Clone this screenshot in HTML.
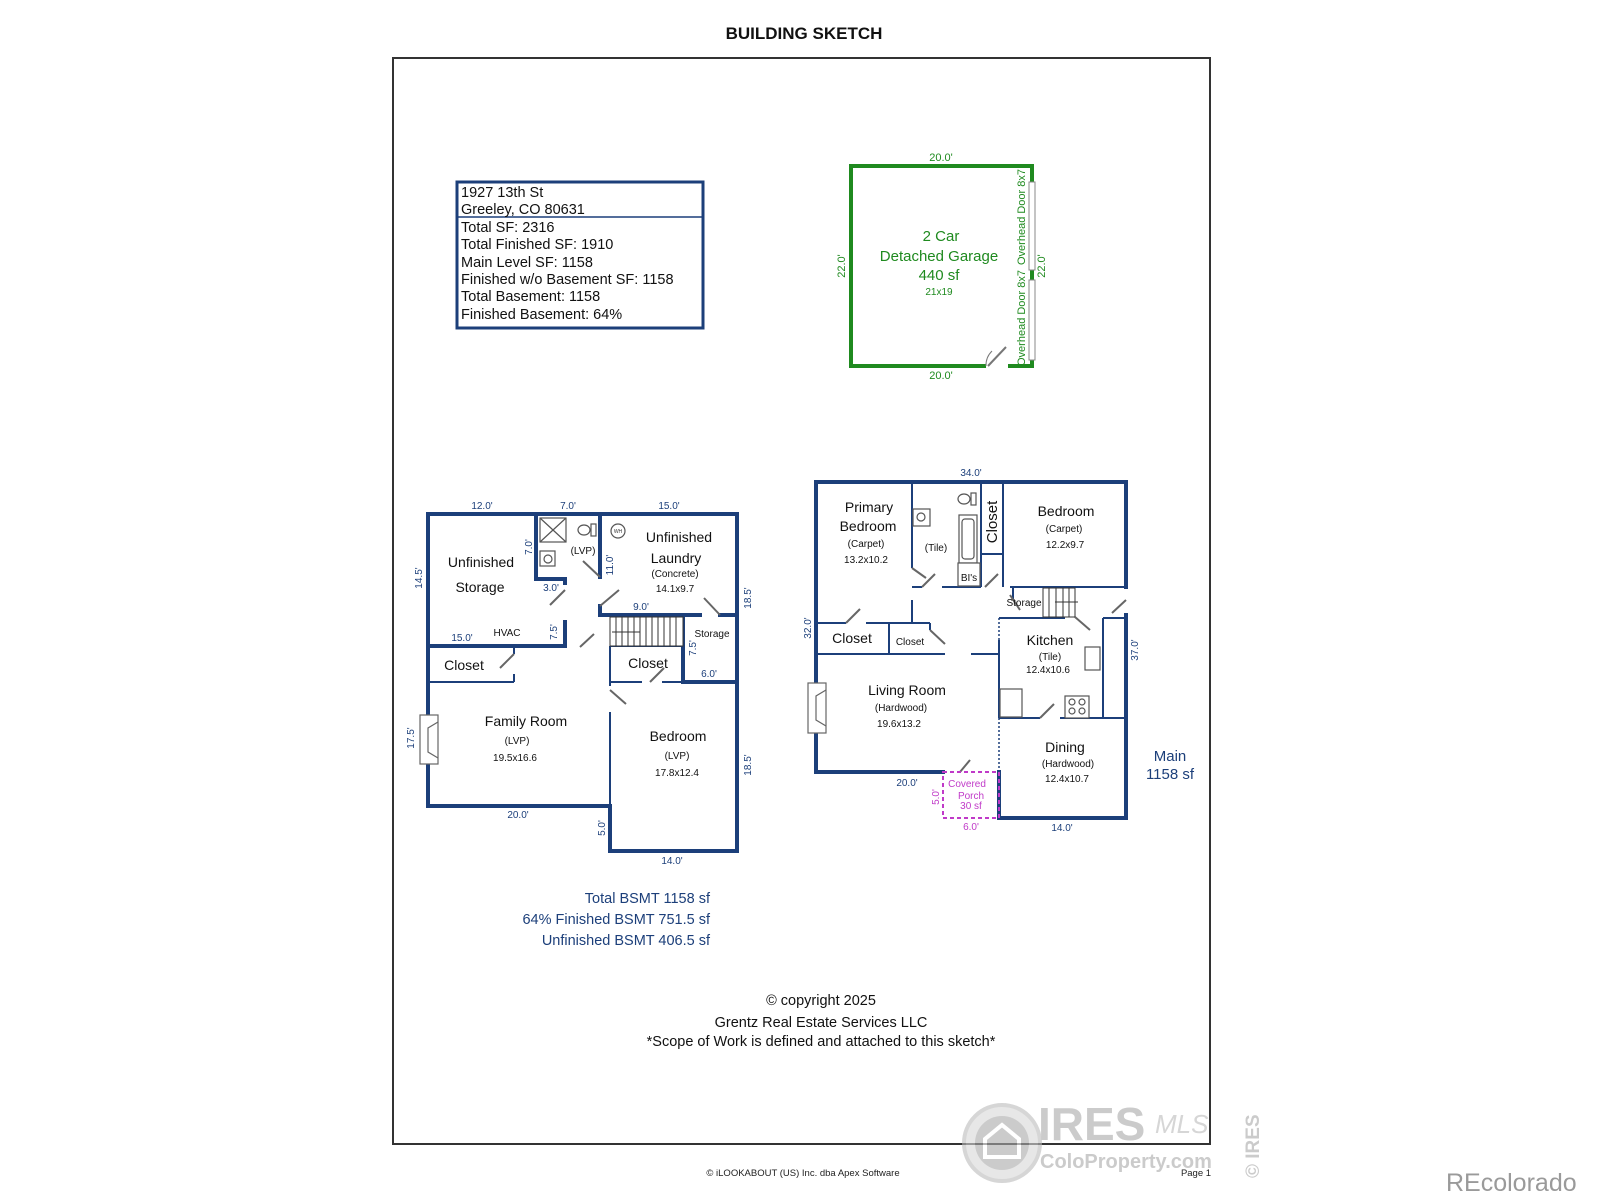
<!DOCTYPE html>
<html><head><meta charset="utf-8"><style>
html,body{margin:0;padding:0;background:#fff;}
svg{display:block;}
text{font-family:"Liberation Sans",Arial,sans-serif;}
</style></head><body>
<svg width="1600" height="1200" viewBox="0 0 1600 1200" xmlns="http://www.w3.org/2000/svg">
<rect width="1600" height="1200" fill="#fff"/>
<text x="804" y="39" text-anchor="middle" font-size="17" font-weight="bold" fill="#111" font-family="DejaVu Sans Condensed, Liberation Sans, sans-serif">BUILDING SKETCH</text>
<rect x="393" y="58" width="817" height="1086" fill="none" stroke="#333" stroke-width="2"/>

<rect x="457" y="182" width="246" height="146" fill="none" stroke="#1c3f7a" stroke-width="3"/>
<line x1="457" y1="217" x2="703" y2="217" stroke="#1c3f7a" stroke-width="1.5"/>
<g font-size="14.5" fill="#111">
<text x="461" y="197">1927 13th St</text>
<text x="461" y="214">Greeley, CO 80631</text>
<text x="461" y="232">Total SF: 2316</text>
<text x="461" y="249">Total Finished SF: 1910</text>
<text x="461" y="267">Main Level SF: 1158</text>
<text x="461" y="284">Finished w/o Basement SF: 1158</text>
<text x="461" y="301">Total Basement: 1158</text>
<text x="461" y="319">Finished Basement: 64%</text>
</g>

<g stroke="#1f8a1f" stroke-width="4" fill="none">
<polyline points="986,366 851,366 851,166 1032,166 1032,366 1008,366"/>
</g>
<rect x="1029" y="182" width="6" height="88" fill="#fff" stroke="#888" stroke-width="1"/>
<rect x="1029" y="280" width="6" height="80" fill="#fff" stroke="#888" stroke-width="1"/>
<line x1="988" y1="366" x2="1006" y2="347" stroke="#777" stroke-width="2"/>
<path d="M986,366 A20,20 0 0 1 992,351" fill="none" stroke="#777" stroke-width="1"/>
<g fill="#1f8a1f" text-anchor="middle">
<text x="941" y="161" font-size="11">20.0'</text>
<text x="941" y="379" font-size="11">20.0'</text>
<text transform="translate(845,266) rotate(-90)" font-size="11">22.0'</text>
<text transform="translate(1045,266) rotate(-90)" font-size="11">22.0'</text>
<text transform="translate(1025,217) rotate(-90)" font-size="11">Overhead Door 8x7</text>
<text transform="translate(1025,318) rotate(-90)" font-size="11">Overhead Door 8x7</text>
<text x="941" y="241" font-size="15">2 Car</text>
<text x="939" y="261" font-size="15">Detached Garage</text>
<text x="939" y="280" font-size="15">440 sf</text>
<text x="939" y="295" font-size="10">21x19</text>
</g>

<g stroke="#1c3f7a" stroke-width="4" fill="none" stroke-linecap="square">
<polyline points="428,514 737,514 737,682"/>
<polyline points="737,682 737,851 610,851 610,806 428,806 428,514"/>
<line x1="536" y1="514" x2="536" y2="579"/>
<line x1="536" y1="579" x2="565" y2="579"/>
<line x1="565" y1="579" x2="565" y2="583"/>
<line x1="565" y1="622" x2="565" y2="646"/>
<line x1="428" y1="646" x2="565" y2="646"/>
<line x1="600" y1="514" x2="600" y2="577"/>
<line x1="600" y1="606" x2="600" y2="615"/>
<line x1="600" y1="615" x2="700" y2="615"/>
<line x1="720" y1="615" x2="737" y2="615"/>
<line x1="683" y1="615" x2="683" y2="682"/>
<line x1="683" y1="682" x2="737" y2="682"/>
</g>
<g stroke="#1c3f7a" stroke-width="2" fill="none">
<line x1="428" y1="682" x2="514" y2="682"/>
<line x1="514" y1="646" x2="514" y2="654"/>
<line x1="514" y1="674" x2="514" y2="682"/>
<line x1="610" y1="646" x2="683" y2="646"/>
<line x1="610" y1="646" x2="610" y2="686"/>
<line x1="610" y1="712" x2="610" y2="806"/>
<line x1="610" y1="682" x2="642" y2="682"/>
<line x1="662" y1="682" x2="683" y2="682"/>
</g>
<g stroke="#333" stroke-width="1">
<rect x="610" y="617" width="73" height="29" fill="#fff"/>
<line x1="616" y1="617" x2="616" y2="646"/><line x1="622" y1="617" x2="622" y2="646"/><line x1="628" y1="617" x2="628" y2="646"/><line x1="634" y1="617" x2="634" y2="646"/><line x1="640" y1="617" x2="640" y2="646"/><line x1="646" y1="617" x2="646" y2="646"/><line x1="652" y1="617" x2="652" y2="646"/><line x1="658" y1="617" x2="658" y2="646"/><line x1="664" y1="617" x2="664" y2="646"/><line x1="670" y1="617" x2="670" y2="646"/><line x1="676" y1="617" x2="676" y2="646"/>
<line x1="612" y1="632" x2="640" y2="632"/>
</g>
<g stroke="#555" stroke-width="1.2" fill="#fff">
<rect x="540" y="518" width="26" height="24"/>
<line x1="540" y1="518" x2="566" y2="542"/><line x1="566" y1="518" x2="540" y2="542"/>
<rect x="540" y="551" width="15" height="15"/><circle cx="548" cy="559" r="4"/>
<ellipse cx="584" cy="530" rx="6" ry="5"/><rect x="591" y="524" width="5" height="12"/>
<circle cx="618" cy="531" r="7"/>
</g>
<text x="618" y="533" font-size="5" text-anchor="middle" fill="#333">WH</text>
<rect x="420" y="715" width="18" height="49" fill="#fff" stroke="#666" stroke-width="1.2"/>
<polyline points="438,722 428,728 428,752 438,758" fill="none" stroke="#666" stroke-width="1.2"/>
<g stroke="#666" stroke-width="2" fill="none">
<line x1="565" y1="590" x2="550" y2="605"/><line x1="600" y1="577" x2="583" y2="561"/>
<line x1="600" y1="606" x2="619" y2="590"/><line x1="720" y1="615" x2="704" y2="598"/>
<line x1="514" y1="654" x2="500" y2="668"/><line x1="580" y1="647" x2="594" y2="634"/>
<line x1="610" y1="690" x2="626" y2="704"/><line x1="650" y1="682" x2="664" y2="668"/>
</g>

<g fill="#1c3f7a" font-size="10" text-anchor="middle">
<text x="482" y="509">12.0'</text><text x="568" y="509">7.0'</text><text x="669" y="509">15.0'</text>
<text transform="translate(422,578) rotate(-90)">14.5'</text>
<text transform="translate(532,547) rotate(-90)">7.0'</text>
<text x="551" y="591">3.0'</text>
<text transform="translate(613,565) rotate(-90)">11.0'</text>
<text x="641" y="610">9.0'</text>
<text transform="translate(751,598) rotate(-90)">18.5'</text>
<text x="462" y="641">15.0'</text>
<text transform="translate(557,632) rotate(-90)">7.5'</text>
<text transform="translate(696,648) rotate(-90)">7.5'</text>
<text x="709" y="677">6.0'</text>
<text transform="translate(414,738) rotate(-90)">17.5'</text>
<text transform="translate(751,765) rotate(-90)">18.5'</text>
<text x="518" y="818">20.0'</text>
<text transform="translate(605,828) rotate(-90)">5.0'</text>
<text x="672" y="864">14.0'</text>
</g>
<g fill="#111" text-anchor="middle">
<text x="481" y="567" font-size="14">Unfinished</text>
<text x="480" y="592" font-size="14">Storage</text>
<text x="583" y="554" font-size="10">(LVP)</text>
<text x="679" y="542" font-size="14">Unfinished</text>
<text x="676" y="563" font-size="14">Laundry</text>
<text x="675" y="577" font-size="10">(Concrete)</text>
<text x="675" y="592" font-size="10">14.1x9.7</text>
<text x="507" y="636" font-size="10">HVAC</text>
<text x="712" y="637" font-size="10">Storage</text>
<text x="464" y="670" font-size="14">Closet</text>
<text x="648" y="668" font-size="14">Closet</text>
<text x="526" y="726" font-size="14">Family Room</text>
<text x="517" y="744" font-size="10">(LVP)</text>
<text x="515" y="761" font-size="10">19.5x16.6</text>
<text x="678" y="741" font-size="14">Bedroom</text>
<text x="677" y="759" font-size="10">(LVP)</text>
<text x="677" y="776" font-size="10">17.8x12.4</text>
</g>
<g fill="#1c3f7a" font-size="14.5" text-anchor="end">
<text x="710" y="903">Total BSMT 1158 sf</text>
<text x="710" y="924">64%  Finished BSMT  751.5 sf</text>
<text x="710" y="945">Unfinished BSMT  406.5 sf</text>
</g>

<g stroke="#1c3f7a" stroke-width="4" fill="none" stroke-linecap="square">
<polyline points="1126,587 1126,482 816,482 816,772 943,772"/>
<polyline points="999,772 999,818 1126,818 1126,615"/>
</g>
<g stroke="#1c3f7a" stroke-width="2" fill="none">
<line x1="912" y1="482" x2="912" y2="568"/><line x1="912" y1="600" x2="912" y2="623"/>
<line x1="912" y1="587" x2="922" y2="587"/><line x1="942" y1="587" x2="981" y2="587"/>
<line x1="981" y1="482" x2="981" y2="587"/>
<line x1="981" y1="554" x2="1003" y2="554"/>
<line x1="1003" y1="482" x2="1003" y2="587"/>
<line x1="1010" y1="587" x2="1126" y2="587"/>
<line x1="816" y1="623" x2="846" y2="623"/><line x1="866" y1="623" x2="930" y2="623"/>
<line x1="889" y1="623" x2="889" y2="654"/>
<line x1="930" y1="623" x2="930" y2="630"/>
<line x1="816" y1="654" x2="945" y2="654"/><line x1="971" y1="654" x2="999" y2="654"/>
<line x1="999" y1="618" x2="1065" y2="618"/><line x1="1103" y1="618" x2="1126" y2="618"/>
<line x1="999" y1="640" x2="999" y2="718"/>
<line x1="1103" y1="618" x2="1103" y2="718"/>
<line x1="999" y1="718" x2="1040" y2="718"/><line x1="1060" y1="718" x2="1126" y2="718"/>
<line x1="1013" y1="587" x2="1013" y2="600"/>
</g>
<g stroke="#1c3f7a" stroke-width="1.5" stroke-dasharray="2,2">
<line x1="999" y1="618" x2="999" y2="640"/>
<line x1="999" y1="718" x2="999" y2="772"/>
</g>
<g stroke="#333" stroke-width="1" fill="#fff">
<rect x="1043" y="588" width="32" height="29"/>
<line x1="1049" y1="588" x2="1049" y2="617"/><line x1="1056" y1="588" x2="1056" y2="617"/><line x1="1063" y1="588" x2="1063" y2="617"/><line x1="1069" y1="588" x2="1069" y2="617"/>
<line x1="1055" y1="602" x2="1078" y2="602"/>
</g>
<g stroke="#555" stroke-width="1.2" fill="#fff">
<rect x="913" y="509" width="17" height="17"/><circle cx="921" cy="517" r="4"/>
<ellipse cx="964" cy="499" rx="6" ry="5"/><rect x="971" y="493" width="5" height="12"/>
<rect x="959" y="515" width="18" height="48"/><rect x="962" y="519" width="12" height="40" rx="3"/>
<rect x="958" y="563" width="22" height="23"/>
<rect x="1085" y="647" width="15" height="23"/>
<rect x="1000" y="689" width="22" height="28"/>
<rect x="1065" y="696" width="24" height="22"/>
<circle cx="1072" cy="702" r="3"/><circle cx="1082" cy="702" r="3"/><circle cx="1072" cy="711" r="3"/><circle cx="1082" cy="711" r="3"/>
</g>
<rect x="808" y="683" width="18" height="50" fill="#fff" stroke="#666" stroke-width="1.2"/>
<polyline points="826,690 816,696 816,720 826,726" fill="none" stroke="#666" stroke-width="1.2"/>
<g stroke="#666" stroke-width="2" fill="none">
<line x1="912" y1="568" x2="926" y2="578"/><line x1="922" y1="587" x2="935" y2="574"/>
<line x1="985" y1="587" x2="998" y2="574"/><line x1="846" y1="623" x2="860" y2="609"/>
<line x1="930" y1="630" x2="945" y2="644"/><line x1="1126" y1="600" x2="1112" y2="613"/>
<line x1="1040" y1="718" x2="1054" y2="704"/><line x1="1075" y1="617" x2="1090" y2="630"/>
<line x1="1010" y1="595" x2="1020" y2="610"/><line x1="960" y1="772" x2="970" y2="760"/>
</g>
<rect x="943" y="772" width="56" height="46" fill="none" stroke="#c03ac8" stroke-width="2" stroke-dasharray="4,3"/>
<g fill="#1c3f7a" font-size="10" text-anchor="middle">
<text x="971" y="476">34.0'</text>
<text transform="translate(811,628) rotate(-90)">32.0'</text>
<text transform="translate(1138,650) rotate(-90)">37.0'</text>
<text x="907" y="786">20.0'</text>
<text x="1062" y="831">14.0'</text>
</g>
<g fill="#c03ac8" font-size="10" text-anchor="middle">
<text x="967" y="787">Covered</text><text x="971" y="799">Porch</text><text x="971" y="809">30 sf</text>
<text transform="translate(939,797) rotate(-90)">5.0'</text>
<text x="971" y="830">6.0'</text>
</g>
<g fill="#111" text-anchor="middle">
<text x="869" y="512" font-size="14">Primary</text>
<text x="868" y="531" font-size="14">Bedroom</text>
<text x="866" y="547" font-size="10">(Carpet)</text>
<text x="866" y="563" font-size="10">13.2x10.2</text>
<text x="936" y="551" font-size="10">(Tile)</text>
<text transform="translate(997,522) rotate(-90)" font-size="15">Closet</text>
<text x="1066" y="516" font-size="14">Bedroom</text>
<text x="1064" y="532" font-size="10">(Carpet)</text>
<text x="1065" y="548" font-size="10">12.2x9.7</text>
<text x="969" y="581" font-size="10">BI's</text>
<text x="1024" y="606" font-size="10">Storage</text>
<text x="852" y="643" font-size="14">Closet</text>
<text x="910" y="645" font-size="10">Closet</text>
<text x="1050" y="645" font-size="14">Kitchen</text>
<text x="1050" y="660" font-size="10">(Tile)</text>
<text x="1048" y="673" font-size="10">12.4x10.6</text>
<text x="907" y="695" font-size="14">Living Room</text>
<text x="901" y="711" font-size="10">(Hardwood)</text>
<text x="899" y="727" font-size="10">19.6x13.2</text>
<text x="1065" y="752" font-size="14">Dining</text>
<text x="1068" y="767" font-size="10">(Hardwood)</text>
<text x="1067" y="782" font-size="10">12.4x10.7</text>
</g>
<g fill="#1c3f7a" font-size="15" text-anchor="middle">
<text x="1170" y="761">Main</text><text x="1170" y="779">1158 sf</text>
</g>

<g fill="#111" text-anchor="middle" font-size="14.5">
<text x="821" y="1005">© copyright 2025</text>
<text x="821" y="1027">Grentz Real Estate Services LLC</text>
<text x="821" y="1046">*Scope of Work is defined and attached to this sketch*</text>
</g>
<text x="803" y="1176" text-anchor="middle" font-size="9.5" fill="#222">© iLOOKABOUT (US) Inc. dba Apex Software</text>
<text x="1196" y="1176" text-anchor="middle" font-size="9.5" fill="#222">Page 1</text>

<g opacity="0.6">
<circle cx="1002" cy="1143" r="38" fill="#d8d8d8" stroke="#bbb" stroke-width="4"/>
<circle cx="1002" cy="1143" r="27" fill="#aaa"/>
<path d="M985,1157 L985,1139 L1002,1125 L1019,1139 L1019,1157 Z" fill="none" stroke="#fff" stroke-width="4"/>
<text x="1038" y="1140" font-size="46" fill="#aaa" font-weight="bold">IRES</text>
<text x="1155" y="1133" font-size="26" fill="#bbb" font-style="italic" font-family="Liberation Serif,serif">MLS</text>
<text x="1040" y="1168" font-size="20" fill="#aaa" font-weight="bold">ColoProperty.com</text>
<text transform="translate(1259,1178) rotate(-90)" font-size="19" fill="#aaa" font-weight="bold">© IRES</text>
</g>
<text x="1446" y="1191" font-size="25" fill="#9a9a9a">REcolorado</text>
</svg>
</body></html>
